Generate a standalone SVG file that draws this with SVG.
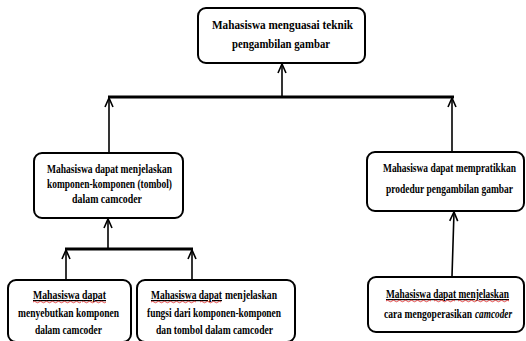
<svg xmlns="http://www.w3.org/2000/svg" width="526" height="341" viewBox="0 0 526 341">
<defs>
<style>
.box{fill:#fff;stroke:#000;stroke-width:2}
.t{font-family:"Liberation Serif","Times New Roman",serif;font-weight:bold;font-size:12px;fill:#000}
.c{fill:none;stroke:#000;stroke-width:1.6}
.bar{fill:none;stroke:#000;stroke-width:3}
.sq{fill:none;stroke:#e02020;stroke-width:0.8}
</style>
<marker id="ah" viewBox="0 0 10 10" refX="10" refY="5" markerWidth="10" markerHeight="10" markerUnits="userSpaceOnUse" orient="auto">
<path d="M1,1 L10,5 L1,9" fill="none" stroke="#000" stroke-width="1.6"/>
</marker>
</defs>
<g id="connectors">
<line class="bar" x1="108" y1="97" x2="454" y2="97"/>
<line class="c" x1="282" y1="96" x2="282" y2="64" marker-end="url(#ah)"/>
<line class="c" x1="109" y1="152" x2="109" y2="98" marker-end="url(#ah)"/>
<line class="c" x1="452" y1="151" x2="452" y2="98" marker-end="url(#ah)"/>
<line class="bar" x1="65" y1="249" x2="193" y2="249"/>
<line class="c" x1="108" y1="248" x2="108" y2="219" marker-end="url(#ah)"/>
<line class="c" x1="66" y1="279" x2="66" y2="250" marker-end="url(#ah)"/>
<line class="c" x1="192" y1="279" x2="192" y2="250" marker-end="url(#ah)"/>
<line class="c" x1="452" y1="276" x2="454" y2="212" marker-end="url(#ah)"/>
</g>
<g id="n1">
<rect class="box" x="198" y="8" width="167" height="55" rx="8"/>
<text class="t" x="212" y="29" textLength="141" lengthAdjust="spacingAndGlyphs">Mahasiswa menguasai teknik</text>
<text class="t" x="232" y="48" textLength="98" lengthAdjust="spacingAndGlyphs">pengambilan gambar</text>
</g>
<g id="n2">
<rect class="box" x="34" y="153" width="149" height="65" rx="8"/>
<text class="t" x="47" y="173" textLength="125" lengthAdjust="spacingAndGlyphs">Mahasiswa dapat menjelaskan</text>
<text class="t" x="47" y="188" textLength="125" lengthAdjust="spacingAndGlyphs">komponen-komponen (tombol)</text>
<text class="t" x="72" y="203" textLength="70" lengthAdjust="spacingAndGlyphs">dalam camcoder</text>
</g>
<g id="n3">
<rect class="box" x="367" y="152" width="157" height="59" rx="8"/>
<text class="t" x="383" y="172" textLength="133" lengthAdjust="spacingAndGlyphs">Mahasiswa dapat mempratikkan</text>
<text class="t" x="386" y="193" textLength="127" lengthAdjust="spacingAndGlyphs">prodedur pengambilan gambar</text>
</g>
<g id="n4">
<rect class="box" x="8" y="280" width="123" height="62" rx="8"/>
<text class="t" x="33" y="299" textLength="73" lengthAdjust="spacingAndGlyphs" text-decoration="underline">Mahasiswa dapat</text>
<text class="t" x="18" y="317" textLength="101" lengthAdjust="spacingAndGlyphs">menyebutkan komponen</text>
<text class="t" x="35" y="334" textLength="67" lengthAdjust="spacingAndGlyphs">dalam camcoder</text>
<path class="sq" d="M33,302 q1.5,-1.5 3,0 t3,0 t3,0 t3,0 t3,0 t3,0 t3,0 t3,0 t3,0 t3,0 t3,0 t3,0 t3,0 t3,0 t3,0 t3,0 M82,302 q1.5,-1.5 3,0 t3,0 t3,0 t3,0 t3,0 t3,0 t3,0 t3,0"/>
</g>
<g id="n5">
<rect class="box" x="137" y="280" width="158" height="62" rx="8"/>
<text class="t" x="151" y="299" textLength="71" lengthAdjust="spacingAndGlyphs" text-decoration="underline">Mahasiswa dapat</text>
<text class="t" x="225" y="299" textLength="52" lengthAdjust="spacingAndGlyphs">menjelaskan</text>
<text class="t" x="147" y="317" textLength="134" lengthAdjust="spacingAndGlyphs">fungsi dari komponen-komponen</text>
<text class="t" x="156" y="334" textLength="117" lengthAdjust="spacingAndGlyphs">dan tombol dalam camcoder</text>
<path class="sq" d="M151,302 q1.5,-1.5 3,0 t3,0 t3,0 t3,0 t3,0 t3,0 t3,0 t3,0 t3,0 t3,0 t3,0 t3,0 t3,0 t3,0 t3,0 M200,302 q1.5,-1.5 3,0 t3,0 t3,0 t3,0 t3,0 t3,0 t3,0"/>
</g>
<g id="n6">
<rect class="box" x="368" y="277" width="156" height="55" rx="8"/>
<text class="t" x="386" y="298" textLength="123" lengthAdjust="spacingAndGlyphs" text-decoration="underline">Mahasiswa dapat menjelaskan</text>
<text class="t" x="384" y="318" textLength="88" lengthAdjust="spacingAndGlyphs">cara mengoperasikan</text>
<text class="t" x="475" y="318" textLength="37" lengthAdjust="spacingAndGlyphs" font-style="italic">camcoder</text>
<path class="sq" d="M386,301 q1.5,-1.5 3,0 t3,0 t3,0 t3,0 t3,0 t3,0 t3,0 t3,0 t3,0 t3,0 t3,0 t3,0 t3,0 t3,0 t3,0 M434,301 q1.5,-1.5 3,0 t3,0 t3,0 t3,0 t3,0 t3,0 t3,0 M458,301 q1.5,-1.5 3,0 t3,0 t3,0 t3,0 t3,0 t3,0 t3,0 t3,0 t3,0 t3,0 t3,0 t3,0 t3,0 t3,0 t3,0 t3,0 t3,0"/>
</g>
</svg>
